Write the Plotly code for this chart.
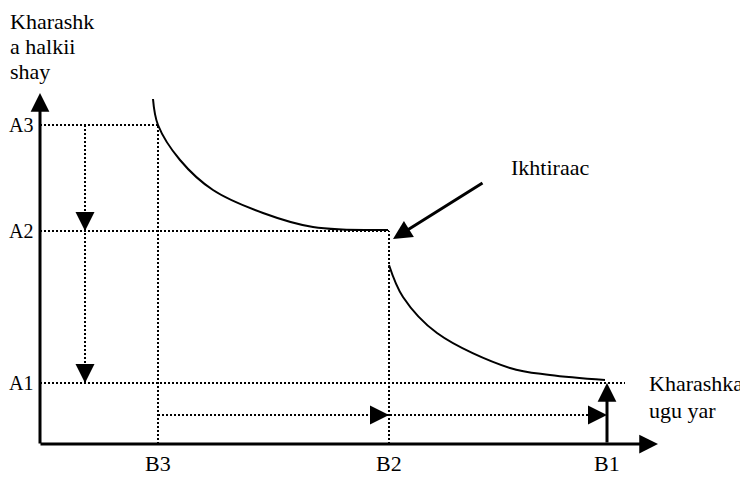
import plotly.graph_objects as go

# diagram units: 1 unit = 1 px, origin where the two axes meet
level_names = ["A1", "A2", "A3"]
level_values = [61, 213, 319]
output_names = ["B3", "B2", "B1"]
output_values = [118, 349, 567]

# upper cost curve (before the innovation) and lower one (after)
curve1_x = [113, 118, 140, 173, 223, 273, 348]
curve1_y = [345, 319, 284, 254, 231, 217, 214]
curve2_x = [349, 363, 397, 470, 510, 565]
curve2_y = [179, 147, 111, 76, 69, 64]

y_axis_top = 351
x_axis_right = 618
a1_line_end = 585
down_arrow_x = 45
right_arrow_y = 29

y_title = ["Kharashk", "a halkii", "shay"]
x_title = ["Kharashka", "ugu yar"]
note_text = "Ikhtiraac"
note_tip = (353, 205)
note_tail = (444, 262)

FONT = "Liberation Serif, DejaVu Serif, serif"
DOT = dict(color="black", width=2, dash="2px,2px")

A1, A2, A3 = level_values
B3, B2, B1 = output_values

fig = go.Figure()


def dotted(xs, ys):
    fig.add_trace(go.Scatter(x=xs, y=ys, mode="lines", line=DOT, hoverinfo="skip"))


# guide lines
dotted([0, B3], [A3, A3])
dotted([0, B2], [A2, A2])
dotted([0, a1_line_end], [A1, A1])
dotted([B3, B3], [0, A3])
dotted([B2, B2], [0, A2])

# movement arrows (dotted shafts)
dotted([down_arrow_x, down_arrow_x], [A3, A1])
dotted([B3, B1], [right_arrow_y, right_arrow_y])

# cost curves
fig.add_trace(go.Scatter(x=curve1_x, y=curve1_y, mode="lines",
                         line=dict(color="black", width=2, shape="spline"),
                         hoverinfo="skip"))
fig.add_trace(go.Scatter(x=curve2_x, y=curve2_y, mode="lines",
                         line=dict(color="black", width=2, shape="spline"),
                         hoverinfo="skip"))

annotations = []


def solid_arrow(tip, tail, width=3):
    annotations.append(dict(
        x=tip[0], y=tip[1], ax=tail[0], ay=tail[1],
        xref="x", yref="y", axref="x", ayref="y",
        showarrow=True, arrowhead=2, arrowsize=1.25, arrowwidth=width,
        arrowcolor="black", text="",
    ))


def head_only(tip, dx, dy):
    # short arrow so only the head shows on top of a dotted shaft
    annotations.append(dict(
        x=tip[0], y=tip[1], ax=dx, ay=dy, xref="x", yref="y",
        showarrow=True, arrowhead=2, arrowsize=1.9, arrowwidth=2,
        arrowcolor="black", text="",
    ))


# axes
solid_arrow((0, y_axis_top), (0, -1))
solid_arrow((x_axis_right, 0), (-1, 0))
# output jump at B1
solid_arrow((B1, A1), (B1, 0))
# innovation pointer
solid_arrow(note_tip, note_tail)

head_only((down_arrow_x, A2), 0, -18)
head_only((down_arrow_x, A1), 0, -18)
head_only((B2, right_arrow_y), -18, 0)
head_only((B1, right_arrow_y), -18, 0)


def label(text, x, y, xanchor="center", size=22):
    annotations.append(dict(
        x=x, y=y, xref="x", yref="y", text=text, showarrow=False,
        xanchor=xanchor, yanchor="middle",
        font=dict(family=FONT, size=size, color="black"),
    ))


for name, val in zip(level_names, level_values):
    label(name, -5, val, "right", size=20)
for name, val in zip(output_names, output_values):
    label(name, val, -19)
for i, line in enumerate(y_title):
    label(line, -32, 423 - 25 * i, "left")
label(x_title[0], 607, A1, "left")
label(x_title[1], 607, 34, "left")
label(note_text, 510, 277)

# the page body adds an 8px margin, so the figure is 8px smaller each way
fig.update_layout(
    width=740,
    height=469,
    margin=dict(l=0, r=0, t=0, b=0),
    paper_bgcolor="white",
    plot_bgcolor="white",
    showlegend=False,
    xaxis=dict(range=[-32, 708], visible=False, fixedrange=True),
    yaxis=dict(range=[-33, 436], visible=False, fixedrange=True),
    annotations=annotations,
)

fig.write_html("out.html")
